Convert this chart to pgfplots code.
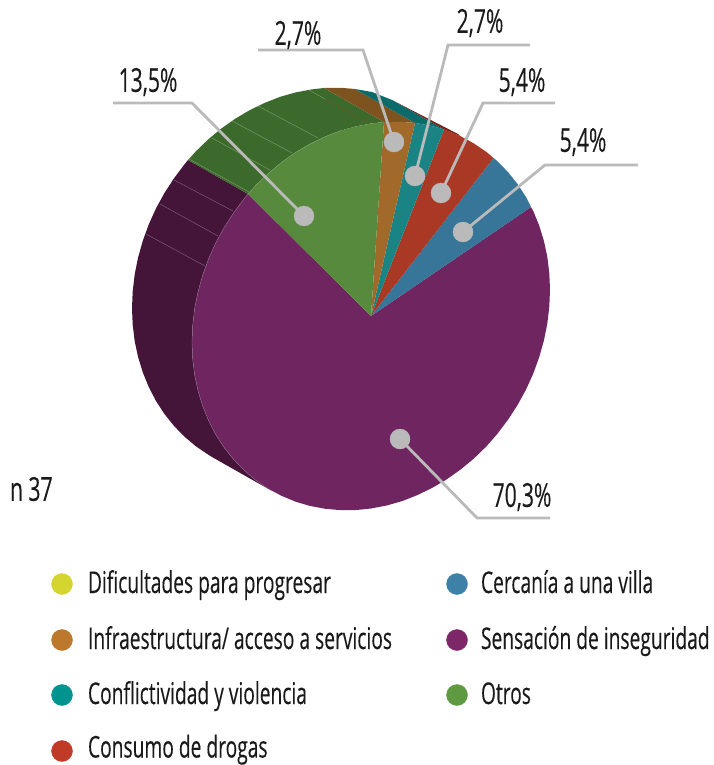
\documentclass[border=0pt]{standalone}
\usepackage{pgfplots}
\pgfplotsset{compat=1.18}
\usepackage{fontspec}
\setmainfont[FakeStretch=0.64,FakeBold=0.2]{Open Sans}
\definecolor{fgreen}{HTML}{578A3C}
\definecolor{forange}{HTML}{A26A2A}
\definecolor{fteal}{HTML}{1A8484}
\definecolor{fred}{HTML}{A93825}
\definecolor{fblue}{HTML}{377699}
\definecolor{fpurple}{HTML}{6F2560}
\definecolor{sgreen}{HTML}{3C6A2D}
\definecolor{sorange}{HTML}{7D541F}
\definecolor{steal}{HTML}{0B6A6A}
\definecolor{sred}{HTML}{7A2418}
\definecolor{spurple}{HTML}{441539}
\definecolor{lgreen}{HTML}{84A670}
\definecolor{lpurple}{HTML}{8C6A86}
\definecolor{leader}{HTML}{BABABA}
\definecolor{txt}{HTML}{1A1A1A}
\definecolor{kyellow}{HTML}{D4D62F}
\definecolor{korange}{HTML}{BC782C}
\definecolor{kteal}{HTML}{00938F}
\definecolor{kred}{HTML}{C03A28}
\definecolor{kblue}{HTML}{3D80A8}
\definecolor{kpurple}{HTML}{7D2768}
\definecolor{kgreen}{HTML}{5F9A42}
\newcommand{\lab}{\fontsize{30}{32}\selectfont\color{txt}}
\newcommand{\plab}{\fontsize{33}{35}\selectfont\color{txt}}
\begin{document}
\begin{tikzpicture}
\path[use as bounding box] (0,0) rectangle (713pt,765pt);
\begin{axis}[at={(0,0)},anchor=south west,scale only axis,width=713pt,height=765pt,
  xmin=0,xmax=713,ymin=0,ymax=765,y dir=reverse,hide axis,clip=false,
  nodes={inner sep=0pt,outer sep=0pt}]
% sides
\addplot[fill=spurple,draw=none] coordinates {(248,194)(244.4,198.4)(233.9,212.4)(224.4,227.1)(216,242.4)(208.8,258.3)(202.8,274.8)(198.1,291.5)(194.7,308.4)(192.7,325.3)(192,342.2)(192.7,358.9)(194.7,375.2)(198.1,391.1)(202.8,406.4)(208.8,421.1)(216,435)(224.4,447.9)(233.9,459.8)(244.4,470.6)(255.9,480.3)(268.3,488.7)(272,491)(212,457)(208.3,454.7)(195.9,446.3)(184.4,436.6)(173.9,425.8)(164.4,413.9)(156,401)(148.8,387.1)(142.8,372.4)(138.1,357.1)(134.7,341.2)(132.7,324.9)(132,308.2)(132.7,291.3)(134.7,274.4)(138.1,257.5)(142.8,240.8)(148.8,224.3)(156,208.4)(164.4,193.1)(173.9,178.4)(184.4,164.4)(188,160)} --cycle;
\addplot[fill=sgreen,draw=none] coordinates {(384,122)(371,123.5)(355.4,126.5)(339.9,130.9)(324.7,136.9)(309.8,144.1)(295.4,152.6)(281.5,162.4)(268.3,173.3)(255.9,185.3)(248,194)(188,160)(195.9,151.3)(208.3,139.3)(221.5,128.4)(235.4,118.6)(249.8,110.1)(264.7,102.9)(279.9,96.9)(295.4,92.5)(311,89.5)(324,88)} --cycle;
\addplot[fill=sorange,draw=none] coordinates {(415,123)(402.1,121.9)(386.6,121.9)(384,122)(324,88)(326.6,87.9)(342.1,87.9)(355,89)} --cycle;
\addplot[fill=sred,draw=none] coordinates {(444,129.5)(392,100)(458,134)(460.5,136.2)} --cycle;
\addplot[fill=steal,draw=none] coordinates {(444,129.5)(432.2,126.1)(417.3,123.3)(415,123)(355,89)(372,92)(392,100)} --cycle;
% side hairlines
\addplot[lpurple,line width=0.35pt] coordinates {(146,234)(205,266)};
\addplot[lpurple,line width=0.35pt] coordinates {(160,204)(218,236)};
\addplot[lpurple,line width=0.35pt] coordinates {(174,180)(233,211)};
\addplot[lgreen,line width=0.35pt] coordinates {(189,159)(249,192)};
\addplot[lgreen,line width=0.35pt] coordinates {(212,138)(270,170)};
\addplot[lgreen,line width=0.35pt] coordinates {(232,121)(292,153)};
\addplot[lgreen,line width=0.35pt] coordinates {(258,106)(318,138)};
\addplot[lgreen,line width=0.35pt] coordinates {(309,90)(325,99)};
\addplot[sorange,line width=0.35pt] coordinates {(325,99)(368,123)};
% top faces
\addplot[fill=fpurple,draw=none] coordinates {(371,316)(248,194)(244.4,198.4)(233.9,212.4)(224.4,227.1)(216,242.4)(208.8,258.3)(202.8,274.8)(198.1,291.5)(194.7,308.4)(192.7,325.3)(192,342.2)(192.7,358.9)(194.7,375.2)(198.1,391.1)(202.8,406.4)(208.8,421.1)(216,435)(224.4,447.9)(233.9,459.8)(244.4,470.6)(255.9,480.3)(268.3,488.7)(281.5,495.8)(295.4,501.6)(309.8,505.9)(324.7,508.7)(339.9,510.1)(355.4,510.1)(371,508.5)(386.6,505.5)(402.1,501.1)(417.3,495.1)(432.2,487.9)(446.6,479.4)(460.5,469.6)(473.7,458.7)(486.1,446.7)(497.6,433.6)(508.1,419.6)(517.6,404.9)(526,389.6)(533.2,373.7)(539.2,357.2)(543.9,340.5)(547.3,323.6)(549.3,306.7)(550,289.8)(549.3,273.1)(547.3,256.8)(543.9,240.9)(539.2,225.6)(533.2,210.9)(531,207)} --cycle;
\addplot[fill=fblue,draw=none] coordinates {(371,316)(531,207)(526,197)(517.6,184.1)(508.1,172.2)(497.6,161.4)(493.5,158)} --cycle;
\addplot[fill=fred,draw=none] coordinates {(371,316)(493.5,158)(486.1,151.7)(473.7,143.3)(460.5,136.2)(446.6,130.4)(444,129.5)} --cycle;
\addplot[fill=fteal,draw=none] coordinates {(371,316)(444,129.5)(432.2,126.1)(417.3,123.3)(415,123)} --cycle;
\addplot[fill=forange,draw=none] coordinates {(371,316)(415,123)(402.1,121.9)(386.6,121.9)(384,122)} --cycle;
\addplot[fill=fgreen,draw=none] coordinates {(371,316)(384,122)(371,123.5)(355.4,126.5)(339.9,130.9)(324.7,136.9)(309.8,144.1)(295.4,152.6)(281.5,162.4)(268.3,173.3)(255.9,185.3)(248,194)} --cycle;
% edge highlight
\addplot[lpurple,line width=0.4pt] coordinates {(248,194)(244.4,198.4)(233.9,212.4)(224.4,227.1)(216,242.4)(208.8,258.3)(202.8,274.8)(198.1,291.5)(194.7,308.4)(192.7,325.3)(192,342.2)(192.7,358.9)(194.7,375.2)(198.1,391.1)(202.8,406.4)(208.8,421.1)(216,435)(224.4,447.9)(233.9,459.8)(244.4,470.6)(255.9,480.3)(268.3,488.7)};
\addplot[lgreen,line width=0.4pt] coordinates {(339.9,130.9)(324.7,136.9)(309.8,144.1)(295.4,152.6)(281.5,162.4)(268.3,173.3)(255.9,185.3)(248,194)};
% leaders
\addplot[leader,line width=2.8pt,line join=miter] coordinates {(113,103)(192,103)(304,216)};
\addplot[leader,line width=2.8pt] coordinates {(258,50)(363,50)(394,142)};
\addplot[leader,line width=2.8pt] coordinates {(530,45)(448,45)(415,176)};
\addplot[leader,line width=2.8pt] coordinates {(555,103)(483,103)(441,193)};
\addplot[leader,line width=2.8pt] coordinates {(638,165)(545,165)(463,232)};
\addplot[leader,line width=2.8pt] coordinates {(400,439)(477,518)(550,518)};
\addplot[leader,only marks,mark=*,mark size=10pt,mark options={fill=leader,draw=leader}] coordinates {(304,216)(394,142)(415,176)(441,193)(463,232)(400,439)};
% percent labels
\node at (axis cs:148,82) {\plab 13,5\%};
\node at (axis cs:298,35) {\plab 2,7\%};
\node at (axis cs:480,23) {\plab 2,7\%};
\node at (axis cs:522,82) {\plab 5,4\%};
\node at (axis cs:583,142) {\plab 5,4\%};
\node at (axis cs:522,497) {\plab 70,3\%};
\node[anchor=west] at (axis cs:10,489) {\plab n 37};
% legend
\addplot[kyellow,only marks,mark=*,mark size=10.5pt,mark options={fill=kyellow,draw=kyellow}] coordinates {(62,584)};
\addplot[korange,only marks,mark=*,mark size=10.5pt,mark options={fill=korange,draw=korange}] coordinates {(62,640)};
\addplot[kteal,only marks,mark=*,mark size=10.5pt,mark options={fill=kteal,draw=kteal}] coordinates {(62,695)};
\addplot[kred,only marks,mark=*,mark size=10.5pt,mark options={fill=kred,draw=kred}] coordinates {(62,751)};
\addplot[kblue,only marks,mark=*,mark size=10.5pt,mark options={fill=kblue,draw=kblue}] coordinates {(457,584)};
\addplot[kpurple,only marks,mark=*,mark size=10.5pt,mark options={fill=kpurple,draw=kpurple}] coordinates {(457,640)};
\addplot[kgreen,only marks,mark=*,mark size=10.5pt,mark options={fill=kgreen,draw=kgreen}] coordinates {(457,695)};
\node[anchor=base west] at (axis cs:88,593) {\lab Dificultades para progresar};
\node[anchor=base west] at (axis cs:88,649) {\lab Infraestructura/ acceso a servicios};
\node[anchor=base west] at (axis cs:88,704) {\lab Conflictividad y violencia};
\node[anchor=base west] at (axis cs:88,757.5) {\lab Consumo de drogas};
\node[anchor=base west] at (axis cs:481,593) {\lab Cercanía a una villa};
\node[anchor=base west] at (axis cs:481,649) {\lab Sensación de inseguridad};
\node[anchor=base west] at (axis cs:481,704) {\lab Otros};
\end{axis}
\end{tikzpicture}
\end{document}
